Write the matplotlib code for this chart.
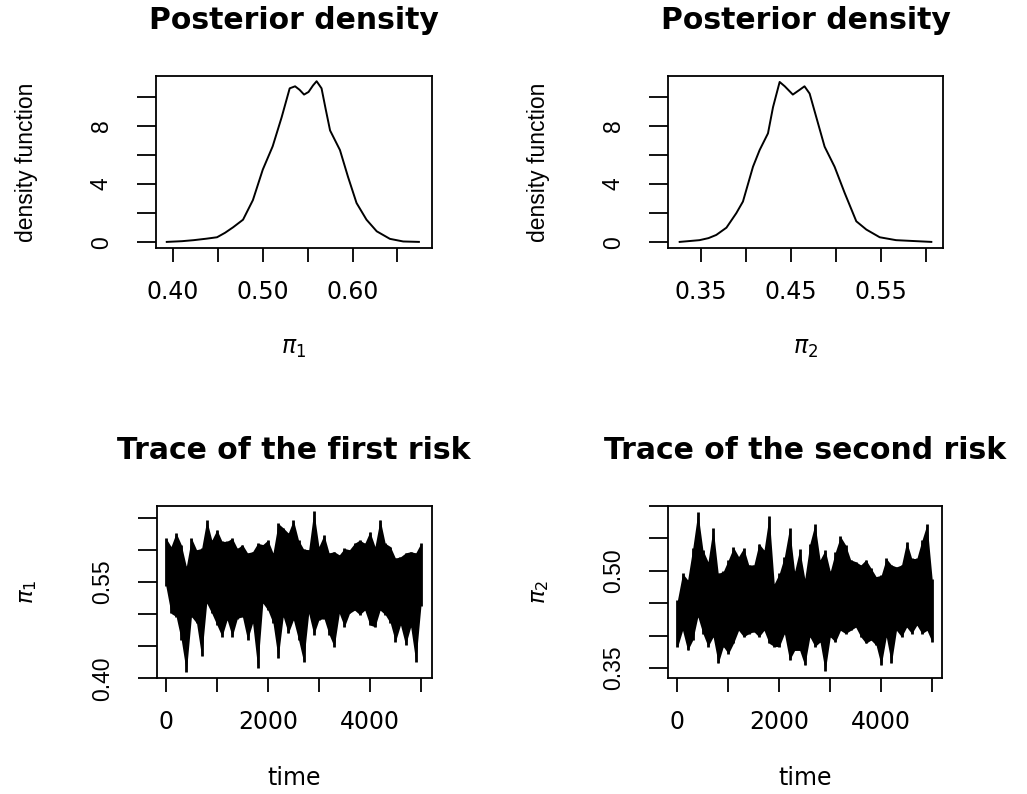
import numpy as np
import matplotlib
matplotlib.use("Agg")
import matplotlib.pyplot as plt

# === Data ===
# posterior density of pi_1
dens1_x = [0.393, 0.41, 0.423, 0.437, 0.449, 0.458, 0.467, 0.478, 0.489, 0.50,
           0.511, 0.521, 0.530, 0.536, 0.541, 0.546, 0.551, 0.556, 0.560, 0.5655,
           0.570, 0.575, 0.586, 0.595, 0.6045, 0.6156, 0.627, 0.6417, 0.6565, 0.674]
dens1_y = [0.02, 0.07, 0.14, 0.24, 0.34, 0.65, 1.03, 1.55, 2.9, 5.0,
           6.6, 8.6, 10.6, 10.74, 10.5, 10.17, 10.35, 10.8, 11.09, 10.6,
           9.2, 7.7, 6.35, 4.5, 2.7, 1.55, 0.75, 0.23, 0.05, 0.02]

# posterior density of pi_2
dens2_x = [0.3259, 0.348, 0.358, 0.3667, 0.378, 0.389, 0.3964, 0.4076, 0.415, 0.4243,
           0.4299, 0.4373, 0.443, 0.452, 0.4596, 0.465, 0.4707, 0.478, 0.4874, 0.4985,
           0.5097, 0.5227, 0.5339, 0.5488, 0.567, 0.6063]
dens2_y = [0.02, 0.14, 0.28, 0.5, 1.0, 2.0, 2.8, 5.2, 6.35, 7.5,
           9.3, 11.04, 10.74, 10.17, 10.5, 10.74, 10.24, 8.64, 6.58, 5.2,
           3.4, 1.44, 0.87, 0.34, 0.14, 0.02]

# trace of pi_1: upper / lower excursions per ~100 iterations
trace1_hi = [0.618, 0.605, 0.626, 0.608, 0.574, 0.618, 0.600, 0.602, 0.646, 0.615,
             0.631, 0.613, 0.613, 0.618, 0.602, 0.608, 0.595, 0.597, 0.610, 0.608,
             0.615, 0.595, 0.641, 0.634, 0.626, 0.646, 0.615, 0.601, 0.600, 0.660,
             0.605, 0.623, 0.595, 0.597, 0.592, 0.602, 0.600, 0.610, 0.615, 0.610,
             0.628, 0.605, 0.647, 0.610, 0.605, 0.587, 0.589, 0.595, 0.597, 0.595,
             0.610]
trace1_lo = [0.543, 0.501, 0.496, 0.460, 0.410, 0.496, 0.486, 0.434, 0.517, 0.501,
             0.483, 0.465, 0.491, 0.465, 0.493, 0.496, 0.460, 0.486, 0.416, 0.517,
             0.506, 0.486, 0.431, 0.496, 0.470, 0.491, 0.460, 0.426, 0.501, 0.468,
             0.491, 0.493, 0.468, 0.449, 0.501, 0.480, 0.501, 0.506, 0.499, 0.506,
             0.483, 0.480, 0.506, 0.499, 0.486, 0.457, 0.483, 0.452, 0.480, 0.426,
             0.512]

# trace of pi_2
trace2_hi = [0.455, 0.496, 0.486, 0.535, 0.590, 0.532, 0.514, 0.566, 0.496, 0.499,
             0.517, 0.536, 0.522, 0.535, 0.509, 0.509, 0.542, 0.532, 0.585, 0.480,
             0.496, 0.522, 0.566, 0.499, 0.533, 0.488, 0.542, 0.572, 0.517, 0.532,
             0.499, 0.529, 0.553, 0.540, 0.517, 0.514, 0.509, 0.517, 0.504, 0.491,
             0.493, 0.519, 0.509, 0.506, 0.509, 0.545, 0.519, 0.519, 0.547, 0.572,
             0.488]
trace2_lo = [0.382, 0.408, 0.377, 0.393, 0.429, 0.403, 0.383, 0.398, 0.357, 0.383,
             0.372, 0.388, 0.408, 0.398, 0.403, 0.406, 0.398, 0.408, 0.388, 0.383,
             0.383, 0.403, 0.362, 0.377, 0.377, 0.354, 0.398, 0.383, 0.390, 0.345,
             0.398, 0.390, 0.408, 0.403, 0.408, 0.413, 0.398, 0.388, 0.393, 0.385,
             0.354, 0.398, 0.357, 0.408, 0.398, 0.413, 0.403, 0.416, 0.403, 0.408,
             0.390]

N_ITER = 5000

# === Style ===
HFONT = "DejaVu Sans"       # horizontal text
VFONT = "Liberation Sans"   # rotated text
plt.rcParams['axes.linewidth'] = 1.3

fig = plt.figure(figsize=(10.27, 7.94), dpi=100)
W, H = 1027, 794


def make_axes(left, top, right, bottom):
    return fig.add_axes([left / W, 1 - bottom / H, (right - left) / W, (bottom - top) / H])


def style_axes(ax, title, xticks, xlabels, yticks, ylabels, xlabel, ylabel):
    ax.set_xticks(xticks)
    ax.set_xticklabels(xlabels, fontsize=17, family=HFONT)
    ax.set_yticks(yticks)
    ax.set_yticklabels(ylabels, fontsize=16.5, family=VFONT, rotation=90, va='center')
    ax.tick_params(axis='x', direction='out', length=10, width=1.3, pad=13)
    ax.tick_params(axis='y', direction='out', length=14, width=1.3, pad=17)
    ax.set_title(title, fontsize=21.5, fontweight='bold', family=HFONT,
                 y=1.325, pad=0, va='center')
    ax.set_xlabel(xlabel, fontsize=17, family=HFONT, va='center')
    ax.xaxis.set_label_coords(0.5, -0.58)
    ax.set_ylabel(ylabel, fontsize=16.5, family=VFONT, va='center')
    ax.yaxis.set_label_coords(-0.47, 0.5)


def draw_trace(ax, hi, lo):
    # dense MCMC trace: solid band between the swings, plus the single spikes
    t = np.linspace(1, N_ITER, len(hi))
    ax.fill_between(t, lo, hi, color='black', lw=0)
    ax.vlines(t, lo, hi, color='black', lw=2.0)


# --- top left ---
ax1 = make_axes(156, 76, 432, 248)
ax1.plot(dens1_x, dens1_y, color='black', lw=1.4)
ax1.set_xlim(0.381, 0.6886)
ax1.set_ylim(-0.4, 11.45)
style_axes(ax1, "Posterior density",
           [0.40, 0.45, 0.50, 0.55, 0.60, 0.65], ['0.40', '', '0.50', '', '0.60', ''],
           [0, 2, 4, 6, 8, 10], ['0', '', '4', '', '8', ''],
           r'$\pi_1$', 'density function')

# --- top right ---
ax2 = make_axes(668, 76, 943, 248)
ax2.plot(dens2_x, dens2_y, color='black', lw=1.4)
ax2.set_xlim(0.3129, 0.6193)
ax2.set_ylim(-0.4, 11.45)
style_axes(ax2, "Posterior density",
           [0.35, 0.40, 0.45, 0.50, 0.55, 0.60], ['0.35', '', '0.45', '', '0.55', ''],
           [0, 2, 4, 6, 8, 10], ['0', '', '4', '', '8', ''],
           r'$\pi_2$', 'density function')

# --- bottom left ---
ax3 = make_axes(156.7, 506, 431.7, 678.3)
draw_trace(ax3, trace1_hi, trace1_lo)
ax3.set_xlim(-180, 5212)
ax3.set_ylim(0.401, 0.668)
style_axes(ax3, "Trace of the first risk",
           [0, 1000, 2000, 3000, 4000, 5000], ['0', '', '2000', '', '4000', ''],
           [0.40, 0.45, 0.50, 0.55, 0.60, 0.65], ['0.40', '', '', '0.55', '', ''],
           'time', r'$\pi_1$')

# --- bottom right ---
ax4 = make_axes(668, 506, 942.3, 678.3)
draw_trace(ax4, trace2_hi, trace2_lo)
ax4.set_xlim(-185, 5200)
ax4.set_ylim(0.334, 0.599)
style_axes(ax4, "Trace of the second risk",
           [0, 1000, 2000, 3000, 4000, 5000], ['0', '', '2000', '', '4000', ''],
           [0.35, 0.40, 0.45, 0.50, 0.55, 0.60], ['0.35', '', '', '0.50', '', ''],
           'time', r'$\pi_2$')

fig.savefig("out.png", dpi=100)
